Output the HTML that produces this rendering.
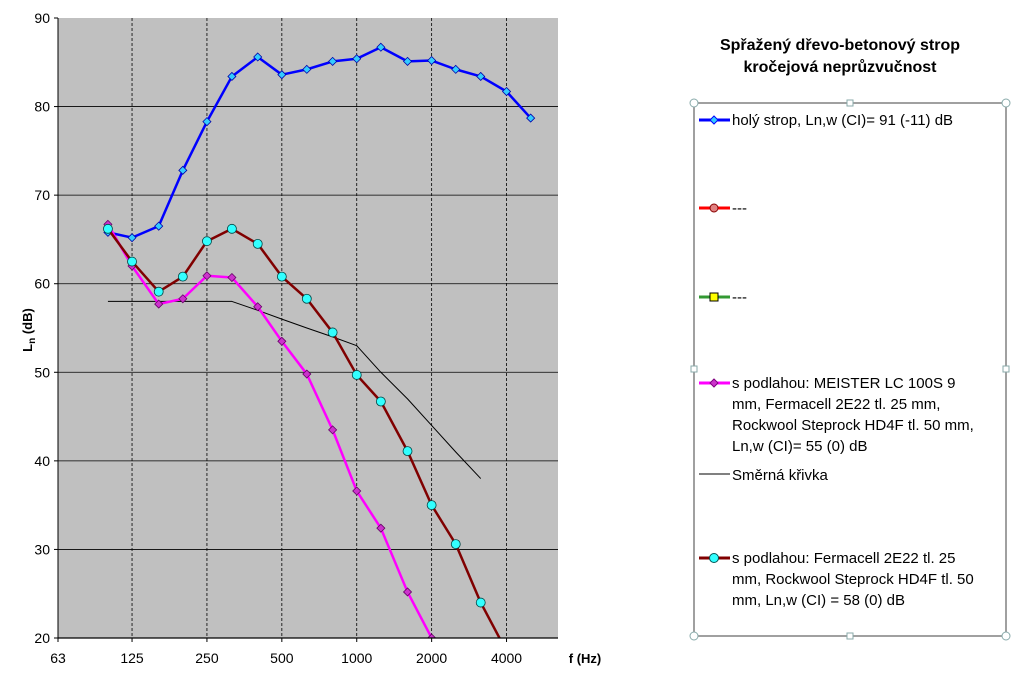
<!DOCTYPE html>
<html><head><meta charset="utf-8"><style>
body{margin:0;background:#fff;font-family:"Liberation Sans",sans-serif;}
svg text{font-family:"Liberation Sans",sans-serif;}
</style></head><body>
<svg id="chart" width="1024" height="670" viewBox="0 0 1024 670" xmlns="http://www.w3.org/2000/svg">
<rect x="58" y="18" width="500" height="620" fill="#c0c0c0"/>
<g id="grid"></g>
<g id="series"></g>
<g id="axes"></g>
<text x="32" y="330" font-size="13" font-weight="bold" transform="rotate(-90 32 330)" text-anchor="middle">L<tspan font-size="10" dy="3">n</tspan><tspan dy="-3"> (dB)</tspan></text>
<text x="585" y="663" font-size="13" font-weight="bold" text-anchor="middle">f (Hz)</text>
<text x="840" y="50" font-size="16" font-weight="bold" text-anchor="middle">Spřažený dřevo-betonový strop</text>
<text x="840" y="72" font-size="16" font-weight="bold" text-anchor="middle">kročejová neprůzvučnost</text>
<g>
<rect x="694" y="103" width="312" height="533" fill="#fff" stroke="#808080" stroke-width="1.5"/>
<circle cx="694" cy="103" r="4" fill="#fff" stroke="#8aa"/><circle cx="1006" cy="103" r="4" fill="#fff" stroke="#8aa"/>
<circle cx="694" cy="636" r="4" fill="#fff" stroke="#8aa"/><circle cx="1006" cy="636" r="4" fill="#fff" stroke="#8aa"/>
<rect x="847" y="100" width="6" height="6" fill="#fff" stroke="#8aa"/><rect x="847" y="633" width="6" height="6" fill="#fff" stroke="#8aa"/>
<rect x="691" y="366" width="6" height="6" fill="#fff" stroke="#8aa"/><rect x="1003" y="366" width="6" height="6" fill="#fff" stroke="#8aa"/>
<g><line x1="699" y1="120" x2="730" y2="120" stroke="#0000ff" stroke-width="3"/><path d="M714 116 L718 120 L714 124 L710 120Z" fill="#33ccff" stroke="#0000ff"/><text x="732" y="125" font-size="15">holý strop, Ln,w (CI)= 91 (-11) dB</text></g>
<g><line x1="699" y1="208" x2="730" y2="208" stroke="#ff0000" stroke-width="3"/><circle cx="714" cy="208" r="4" fill="#e08080" stroke="#800"/><text x="732" y="213" font-size="15">---</text></g>
<g><line x1="699" y1="297" x2="730" y2="297" stroke="#339933" stroke-width="3"/><rect x="710" y="293" width="8" height="8" fill="#ffff00" stroke="#000"/><text x="732" y="302" font-size="15">---</text></g>
<g><line x1="699" y1="383" x2="730" y2="383" stroke="#ff00ff" stroke-width="3"/><path d="M714 379 L718 383 L714 387 L710 383Z" fill="#cc33cc" stroke="#800080"/>
<text font-size="15"><tspan x="732" y="388">s podlahou: MEISTER LC 100S 9</tspan><tspan x="732" y="409">mm, Fermacell 2E22 tl. 25 mm,</tspan><tspan x="732" y="430">Rockwool Steprock HD4F tl. 50 mm,</tspan><tspan x="732" y="451">Ln,w (CI)= 55 (0) dB</tspan></text></g>
<g><line x1="699" y1="474" x2="730" y2="474" stroke="#000" stroke-width="1"/><text x="732" y="480" font-size="15">Směrná křivka</text></g>
<g><line x1="699" y1="558" x2="730" y2="558" stroke="#800000" stroke-width="3"/><circle cx="714" cy="558" r="4.5" fill="#33ffff" stroke="#005555"/>
<text font-size="15"><tspan x="732" y="563">s podlahou: Fermacell 2E22 tl. 25</tspan><tspan x="732" y="584">mm, Rockwool Steprock HD4F tl. 50</tspan><tspan x="732" y="605">mm, Ln,w (CI) = 58 (0) dB</tspan></text></g>
</g>
</svg>
<script>
const freqs=[100,125,160,200,250,315,400,500,630,800,1000,1250,1600,2000,2500,3150,4000,5000];
const holy=[65.8,65.2,66.5,72.8,78.3,83.4,85.6,83.6,84.2,85.1,85.4,86.7,85.1,85.2,84.2,83.4,81.7,78.7];
const fermacell=[66.2,62.5,59.1,60.8,64.8,66.2,64.5,60.8,58.3,54.5,49.7,46.7,41.1,35.0,30.6,24.0,18.5,null];
const meister=[66.7,62.0,57.7,58.3,60.9,60.7,57.4,53.5,49.8,43.5,36.6,32.4,25.2,20.0,null,null,null,null];
const smerna=[58,58,58,58,58,58,57,56,55,54,53,50,47,44,41,38,null,null];
const xTicks=[63,125,250,500,1000,2000,4000];
const yTicks=[20,30,40,50,60,70,80,90];
const NS="http://www.w3.org/2000/svg";
const X0=58,X1=558,Y0=638,Y1=18;
function xs(f){return X0+Math.log2(f/63)*74.9;}
function ys(v){return Y0-(v-20)/70*(Y0-Y1);}
function el(t,a,p){const e=document.createElementNS(NS,t);for(const k in a)e.setAttribute(k,a[k]);p.appendChild(e);return e;}
const grid=document.getElementById('grid'),axes=document.getElementById('axes'),ser=document.getElementById('series');
yTicks.forEach(v=>{
 const y=ys(v);
 const l=el('line',{x1:X0,x2:X1,y1:y,y2:y,stroke:'#000','stroke-width':v==20||v==90?0:0.8},grid);
 
 
 const t=el('text',{x:X0-8,y:y+5,'font-size':14,'text-anchor':'end'},axes);t.textContent=v;
 
 
 el('line',{x1:X0-4,x2:X0,y1:y,y2:y,stroke:'#000'},axes);
});
xTicks.forEach(f=>{
 const x=xs(f);
 if(f!=63){const l=el('line',{x1:x,x2:x,y1:Y1,y2:Y0,stroke:'#000','stroke-dasharray':'3,2','stroke-width':0.8},grid);
 
 }
 el('line',{x1:x,x2:x,y1:Y0,y2:Y0+4,stroke:'#000'},axes);
 const t=el('text',{x:x,y:663,'font-size':14,'text-anchor':'middle'},axes);t.textContent=f;
 
 
});
el('line',{x1:X0,x2:X1,y1:Y0,y2:Y0,stroke:'#000','stroke-width':1.2},axes);
el('line',{x1:X0,x2:X0,y1:Y1,y2:Y0,stroke:'#000','stroke-width':1},axes);
el('clipPath',{id:'clip'},document.getElementById('chart'));
el('rect',{x:X0,y:Y1,width:X1-X0,height:Y0-Y1},document.getElementById('clip'));
ser.setAttribute('clip-path','url(#clip)');
function series(vals,color,w,marker,fill,mstroke,name){
 const pts=[];vals.forEach((v,i)=>{if(v!==null)pts.push([xs(freqs[i]),ys(v)]);});
 const p=el('polyline',{points:pts.map(p=>p.join(',')).join(' '),fill:'none',stroke:color,'stroke-width':w,'stroke-linejoin':'round'},ser);
 
 
 pts.forEach(([x,y])=>{
  let m;
  if(marker=='d')m=el('path',{d:`M${x} ${y-4}L${x+4} ${y}L${x} ${y+4}L${x-4} ${y}Z`,fill:fill,stroke:mstroke,'stroke-width':0.8},ser);
  else if(marker=='c')m=el('circle',{cx:x,cy:y,r:4.5,fill:fill,stroke:mstroke,'stroke-width':0.8},ser);
  if(m){
  }
 });
}
series(smerna,'#000',1,null,null,null,'smerna');
series(holy,'#0000ff',2.5,'d','#33ccff','#0000aa','holy');
series(meister,'#ff00ff',2.5,'d','#cc33cc','#660066','meister');
series(fermacell,'#800000',2.5,'c','#33ffff','#004444','fermacell');
</script>
</body></html>
